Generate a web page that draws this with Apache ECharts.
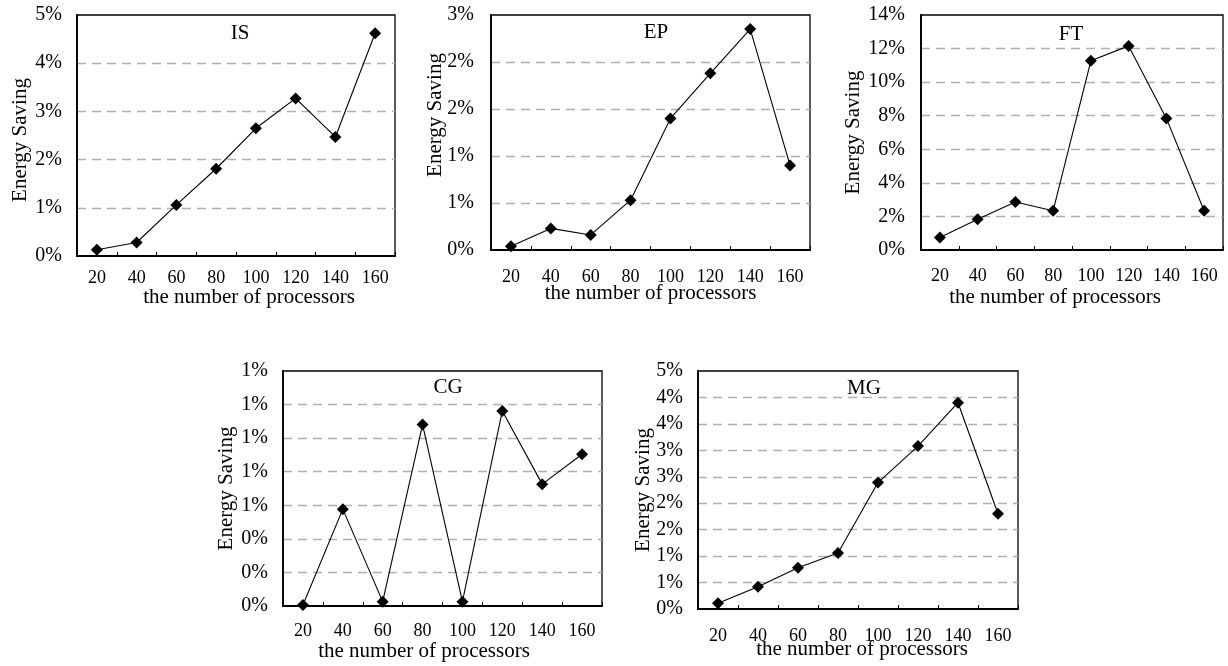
<!DOCTYPE html>
<html>
<head>
<meta charset="utf-8">
<script src="https://cdn.jsdelivr.net/npm/echarts@6/dist/echarts.min.js"></script>
<style>
html,body{margin:0;padding:0;background:#fff;}
#chart{width:1228px;height:666px;}
</style>
</head>
<body>
<div id="chart"></div>
<script>
// ---- data ----
const categories = ['20', '40', '60', '80', '100', '120', '140', '160'];
const panelTitles = ['IS', 'EP', 'FT', 'CG', 'MG'];
const isValues = [0.13, 0.28, 1.06, 1.81, 2.65, 3.27, 2.47, 4.62];
const epValues = [0.04, 0.23, 0.16, 0.53, 1.40, 1.88, 2.35, 0.90];
const ftValues = [0.75, 1.83, 2.86, 2.34, 11.27, 12.16, 7.84, 2.34];
const cgValues = [0.006, 0.577, 0.026, 1.081, 0.026, 1.162, 0.726, 0.904];
const mgValues = [0.11, 0.42, 0.78, 1.06, 2.39, 3.08, 3.90, 1.80];
const yMax = [5, 2.5, 14, 1.4, 4.5];
const yInterval = [1, 0.5, 2, 0.2, 0.5];
const seriesValues = [isValues, epValues, ftValues, cgValues, mgValues];
const xAxisName = 'the number of processors';
const yAxisName = 'Energy Saving';

// ---- layout (positions / styles) ----
const layout = [
  {grid: {left: 77, top: 15, width: 318, height: 241}, title: [240, 23], xm: 13, xg: 31, xpad: [0,0,0,26], ym: 15, yg: 46, ypad: [0,9,0,0]},
  {grid: {left: 491, top: 15, width: 319, height: 235}, title: [656, 22], xm: 18, xg: 33, xpad: [0,0,0,0], ym: 17, yg: 45, ypad: [0,0,0,35]},
  {grid: {left: 921, top: 15, width: 302, height: 235}, title: [1071, 24], xm: 17, xg: 37, xpad: [0,34,0,0], ym: 16, yg: 57, ypad: [0,0,0,0]},
  {grid: {left: 283, top: 371, width: 319, height: 235}, title: [448, 377], xm: 16, xg: 35, xpad: [0,37,0,0], ym: 15, yg: 46, ypad: [0,0,0,0]},
  {grid: {left: 698, top: 371, width: 320, height: 238}, title: [864, 378], xm: 18, xg: 30, xpad: [0,0,0,8], ym: 15, yg: 44, ypad: [0,0,0,0]}
];

const FONT = "'Liberation Serif', 'Times New Roman', serif";

const option = {
  animation: false,
  backgroundColor: '#fff',
  title: [], grid: [], xAxis: [], yAxis: [], series: []
};

panelTitles.forEach(function (t, i) {
  const L = layout[i];
  option.title.push({
    text: t, left: L.title[0], top: L.title[1], textAlign: 'center',
    padding: 0,
    textStyle: {fontFamily: FONT, fontSize: 21, fontWeight: 'normal', color: '#000'}
  });
  option.grid.push(Object.assign({show: true, borderColor: '#000', borderWidth: 1.3, backgroundColor: 'transparent'}, L.grid));
  option.xAxis.push({
    type: 'category', gridIndex: i, data: categories, boundaryGap: true,
    name: xAxisName, nameLocation: 'middle', nameGap: L.xg, nameMoveOverlap: false,
    nameTextStyle: {fontFamily: FONT, fontSize: 21, color: '#000', padding: L.xpad},
    axisLine: {lineStyle: {color: '#000', width: 1.8}},
    axisTick: {show: true, inside: true, length: 4, lineStyle: {color: '#000', width: 1}},
    axisLabel: {fontFamily: FONT, fontSize: 18, color: '#000', margin: L.xm, interval: 0},
    splitLine: {show: false}
  });
  option.yAxis.push({
    type: 'value', gridIndex: i, min: 0, max: yMax[i], interval: yInterval[i],
    name: yAxisName, nameLocation: 'middle', nameGap: L.yg, nameMoveOverlap: false,
    nameTextStyle: {fontFamily: FONT, fontSize: 21, color: '#000', padding: L.ypad},
    axisLine: {show: true, lineStyle: {color: '#000', width: 1.8}},
    axisTick: {show: false},
    axisLabel: {fontFamily: FONT, fontSize: 20, color: '#000', margin: L.ym,
      formatter: function (v) { return Math.round(v) + '%'; }},
    splitLine: {show: true, showMinLine: false, showMaxLine: false,
      lineStyle: {color: '#b0b0b0', type: [9, 6], width: 1.3}}
  });
  option.series.push({
    type: 'line', xAxisIndex: i, yAxisIndex: i, data: seriesValues[i],
    symbol: 'diamond', symbolSize: 12,
    lineStyle: {color: '#000', width: 1.1},
    itemStyle: {color: '#000'}
  });
});

const chart = echarts.init(document.getElementById('chart'), null, {renderer: 'canvas'});
chart.setOption(option);
</script>
</body>
</html>
